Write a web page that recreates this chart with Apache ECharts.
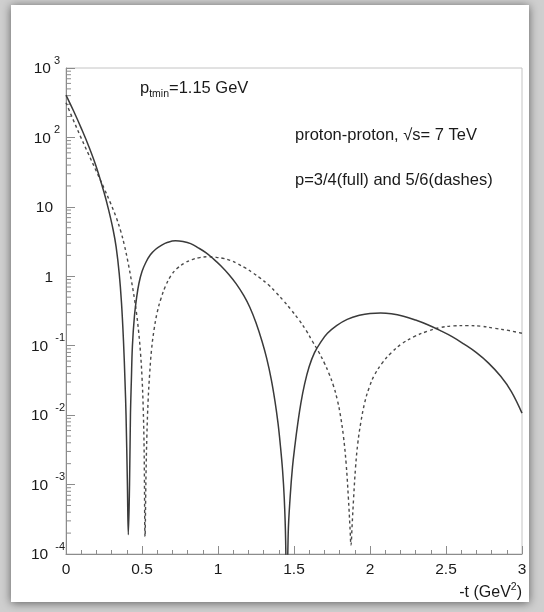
<!DOCTYPE html>
<html>
<head>
<meta charset="utf-8">
<script src="https://cdn.jsdelivr.net/npm/echarts@6/dist/echarts.min.js"></script>
<style>
  html, body { margin: 0; padding: 0; background: #ffffff; }
  #chart { width: 544px; height: 612px; }
</style>
</head>
<body>
<div id="chart"></div>
<script>
// -t values (GeV^2) and cross sections for p = 3/4 (full line)
const tFull = [0.000, 0.050, 0.100, 0.150, 0.200, 0.250, 0.280, 0.310, 0.330, 0.350,
  0.365, 0.378, 0.388, 0.395, 0.404, 0.410, 0.418, 0.424, 0.430, 0.437,
  0.450, 0.465, 0.480, 0.500, 0.525, 0.555, 0.590, 0.630, 0.670, 0.720,
  0.770, 0.820, 0.870, 0.920, 0.970, 1.020, 1.070, 1.120, 1.170, 1.210,
  1.250, 1.290, 1.320, 1.350, 1.375, 1.395, 1.410, 1.425, 1.436, 1.445,
  1.452, 1.462, 1.475, 1.490, 1.507, 1.525, 1.545, 1.570, 1.600, 1.635,
  1.675, 1.720, 1.780, 1.850, 1.930, 2.000, 2.070, 2.140, 2.220, 2.300,
  2.380, 2.460, 2.540, 2.620, 2.700, 2.780, 2.860, 2.930, 3.000];
const vFull = [407, 240, 136, 74.1, 37.2, 16.2, 9.12, 4.68, 2.63, 1.10,
  0.417, 0.120, 0.0316, 0.0100, 0.00100, 0.000190, 0.00100, 0.0100, 0.0316, 0.100,
  0.263, 0.501, 0.794, 1.17, 1.58, 2.04, 2.45, 2.82, 3.09, 3.24,
  3.16, 2.95, 2.57, 2.19, 1.78, 1.41, 1.07, 0.776, 0.525, 0.355,
  0.214, 0.115, 0.0661, 0.0331, 0.0158, 0.00759, 0.00372, 0.00158, 0.00063, 0.000158,
  0.00001, 0.000200, 0.000676, 0.00178, 0.00380, 0.00759, 0.0148, 0.0282, 0.0501, 0.0794,
  0.112, 0.151, 0.195, 0.240, 0.275, 0.292, 0.295, 0.288, 0.266, 0.234,
  0.200, 0.166, 0.135, 0.105, 0.0794, 0.0562, 0.0363, 0.0219, 0.0107];

// -t values (GeV^2) and cross sections for p = 5/6 (dashed line)
const tDash = [0.000, 0.050, 0.100, 0.150, 0.200, 0.250, 0.290, 0.330, 0.360, 0.385,
  0.410, 0.430, 0.450, 0.465, 0.478, 0.490, 0.500, 0.508, 0.514, 0.520,
  0.526, 0.532, 0.540, 0.550, 0.563, 0.580, 0.600, 0.625, 0.655, 0.690,
  0.730, 0.780, 0.830, 0.880, 0.930, 0.980, 1.030, 1.080, 1.130, 1.180,
  1.230, 1.280, 1.330, 1.380, 1.430, 1.480, 1.530, 1.580, 1.620, 1.660,
  1.700, 1.730, 1.760, 1.785, 1.805, 1.825, 1.843, 1.858, 1.868, 1.875,
  1.882, 1.892, 1.905, 1.920, 1.940, 1.965, 1.995, 2.030, 2.080, 2.140,
  2.210, 2.290, 2.380, 2.460, 2.550, 2.640, 2.730, 2.820, 2.910, 3.000];
const vDash = [316, 174, 97.7, 56.2, 32.4, 18.6, 11.7, 7.08, 4.47, 2.75,
  1.51, 0.871, 0.479, 0.282, 0.158, 0.0794, 0.0355, 0.0126, 0.00316, 0.000178,
  0.00126, 0.00501, 0.0158, 0.0380, 0.0891, 0.174, 0.302, 0.479, 0.724, 1.02,
  1.29, 1.55, 1.74, 1.86, 1.91, 1.88, 1.82, 1.70, 1.51, 1.32,
  1.12, 0.933, 0.759, 0.589, 0.447, 0.331, 0.240, 0.166, 0.117, 0.0832,
  0.0562, 0.0398, 0.0263, 0.0166, 0.0100, 0.00501, 0.00200, 0.00063, 0.000251, 0.000135,
  0.000251, 0.00063, 0.00178, 0.00398, 0.00794, 0.0151, 0.0251, 0.0380, 0.0562, 0.0794,
  0.107, 0.135, 0.162, 0.182, 0.193, 0.195, 0.191, 0.178, 0.166, 0.151];

// Axis ranges
const xMin = 0, xMax = 3, xStep = 0.5;
const yMinExp = -4, yMaxExp = 3;

const FONT = '"Liberation Sans", Arial, Helvetica, sans-serif';
const INK = '#1a1a1a';
const AXIS_GREY = '#8c8c8c';

function pairs(xs, ys) { return xs.map((x, i) => [x, ys[i]]); }

// Log minor tick positions (2..9 x 10^n) drawn on the left axis
const yMinorTicks = [];
for (let e = yMinExp; e < yMaxExp; e++) {
  for (let k = 2; k <= 9; k++) yMinorTicks.push([0, k * Math.pow(10, e)]);
}

function yLabel(v) {
  const e = Math.round(Math.log10(v));
  if (e === 0) return '{p|1}';
  if (e === 1) return '{p|10}';
  if (e < 0) return '{b|10}{sn|' + e + '}';
  return '{b|10}{sp|' + e + '}';
}

const chart = echarts.init(document.getElementById('chart'), null, { renderer: 'canvas' });

const option = {
  animation: false,
  backgroundColor: '#ffffff',
  textStyle: { fontFamily: FONT },
  graphic: [
    // picture frame with soft shadow
    { type: 'rect', z: -20, silent: true,
      shape: { x: 0, y: 0, width: 544, height: 612 },
      style: { fill: '#cfcfcf' } },
    { type: 'rect', z: -19, silent: true,
      shape: { x: 11, y: 5, width: 518, height: 597 },
      style: { fill: '#ffffff', shadowBlur: 9, shadowColor: 'rgba(0,0,0,0.55)', shadowOffsetX: 0, shadowOffsetY: 1 } },
    // annotations
    { type: 'text', z: 50, left: 140, top: 80,
      style: {
        text: '{a|p}{s|tmin}{a|=1.15 GeV}',
        fill: INK, font: '16px ' + FONT,
        rich: {
          a: { fontSize: 16.5, fontFamily: FONT, lineHeight: 22, fill: INK, color: INK },
          s: { fontSize: 10.5, fontFamily: FONT, lineHeight: 8, verticalAlign: 'bottom', fill: INK, color: INK }
        }
      } },
    { type: 'text', z: 50, left: 295, top: 127,
      style: { text: 'proton-proton, \u221As= 7 TeV', fill: INK, font: '16.5px ' + FONT } },
    { type: 'text', z: 50, left: 295, top: 172,
      style: { text: 'p=3/4(full) and 5/6(dashes)', fill: INK, font: '16.5px ' + FONT } },
    { type: 'text', z: 50, right: 22, top: 582,
      style: {
        text: '{a|-t (GeV}{s|2}{a|)}',
        fill: INK, font: '16px ' + FONT,
        rich: {
          a: { fontSize: 16, fontFamily: FONT, lineHeight: 22, fill: INK, color: INK },
          s: { fontSize: 10.5, fontFamily: FONT, lineHeight: 8, verticalAlign: 'top', fill: INK, color: INK }
        }
      } }
  ],
  grid: {
    left: 66, right: 22, top: 68, bottom: 58,
    show: true, borderColor: '#c4c4c4', borderWidth: 1, backgroundColor: 'transparent'
  },
  xAxis: {
    type: 'value', min: xMin, max: xMax, interval: xStep,
    axisLine: { show: true, onZero: false, lineStyle: { color: AXIS_GREY, width: 1 } },
    axisTick: { show: true, inside: true, length: 8, lineStyle: { color: AXIS_GREY } },
    minorTick: { show: true, splitNumber: 5, length: 4, lineStyle: { color: AXIS_GREY } },
    splitLine: { show: false },
    axisLabel: { color: INK, fontSize: 15.5, fontFamily: FONT, margin: 8,
      formatter: v => String(v) }
  },
  yAxis: {
    type: 'log', logBase: 10,
    min: Math.pow(10, yMinExp), max: Math.pow(10, yMaxExp), interval: 1,
    axisLine: { show: true, lineStyle: { color: AXIS_GREY, width: 1 } },
    axisTick: { show: true, inside: true, length: 9, lineStyle: { color: AXIS_GREY } },
    minorTick: { show: false },
    splitLine: { show: false },
    axisLabel: {
      margin: 1, color: INK, fontFamily: FONT, padding: [2, 0, 0, 0],
      formatter: yLabel,
      rich: {
        b: { fontSize: 15.5, lineHeight: 28, fontFamily: FONT, color: INK },
        p: { fontSize: 15.5, lineHeight: 28, fontFamily: FONT, color: INK, padding: [0, 12, 0, 0] },
        sp: { fontSize: 11, lineHeight: 12, verticalAlign: 'top', fontFamily: FONT, color: INK, padding: [0, 5, 0, 3] },
        sn: { fontSize: 11, lineHeight: 4, verticalAlign: 'top', fontFamily: FONT, color: INK, padding: [0, 0, 0, 7] }
      }
    }
  },
  series: [
    {
      name: 'minor ticks', type: 'custom', silent: true, z: 1,
      data: yMinorTicks,
      renderItem: function (params, api) {
        const p = api.coord([api.value(0), api.value(1)]);
        return {
          type: 'line',
          shape: { x1: p[0], y1: p[1], x2: p[0] + 5, y2: p[1] },
          style: { stroke: AXIS_GREY, lineWidth: 1 }
        };
      }
    },
    {
      name: 'p=3/4', type: 'line', data: pairs(tFull, vFull),
      showSymbol: false, smooth: 0.4, clip: true,
      lineStyle: { color: '#3a3a3a', width: 1.5, type: 'solid' }, z: 5
    },
    {
      name: 'p=5/6', type: 'line', data: pairs(tDash, vDash),
      showSymbol: false, smooth: 0.4, clip: true,
      lineStyle: { color: '#4a4a4a', width: 1.4, type: [3, 3] }, z: 4
    }
  ]
};

chart.setOption(option);
</script>
</body>
</html>
